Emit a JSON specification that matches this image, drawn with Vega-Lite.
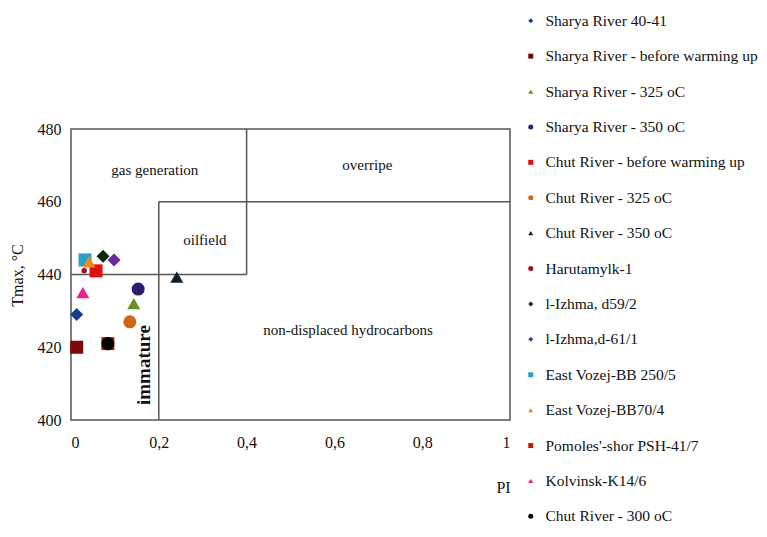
{
  "$schema": "https://vega.github.io/schema/vega-lite/v6.json",
  "width": 439,
  "height": 291,
  "autosize": {"type": "none"},
  "padding": {"left": 71, "top": 129, "right": 257, "bottom": 117},
  "background": "white",
  "config": {
    "view": {"stroke": "#555555", "strokeWidth": 1.5},
    "font": "Liberation Serif",
    "axis": {"labelFont": "Liberation Serif", "titleFont": "Liberation Serif", "labelColor": "#111", "titleColor": "#111", "labelFontSize": 16, "titleFontSize": 16, "titleFontWeight": "normal", "grid": false, "ticks": false, "domain": false}
  },
  "datasets": {
    "lines": [
      {"x": 0, "x2": 0.4, "y": 440, "y2": 440},
      {"x": 0.4, "x2": 0.4, "y": 440, "y2": 480},
      {"x": 0.2, "x2": 0.2, "y": 400, "y2": 460},
      {"x": 0.2, "x2": 1, "y": 460, "y2": 460}
    ],
    "zones": [
      {"label": "gas generation", "x": 0.191, "y": 468.7, "rot": "h"},
      {"label": "overripe", "x": 0.675, "y": 470.1, "rot": "h"},
      {"label": "oilfield", "x": 0.305, "y": 449.5, "rot": "h"},
      {"label": "non-displaced hydrocarbons", "x": 0.631, "y": 424.7, "rot": "h"},
      {"label": "immature", "x": 0.166, "y": 415.1, "rot": "v"}
    ],
    "points": [
      {"series": "Sharya River 40-41", "PI": 0.013, "Tmax": 429},
      {"series": "Sharya River - before warming up", "PI": 0.013, "Tmax": 420},
      {"series": "Sharya River - 325 oC", "PI": 0.143, "Tmax": 432},
      {"series": "Sharya River - 350 oC", "PI": 0.153, "Tmax": 436},
      {"series": "Chut River - before warming up", "PI": 0.057, "Tmax": 441},
      {"series": "Chut River - 325 oC", "PI": 0.134, "Tmax": 427},
      {"series": "Chut River - 350 oC", "PI": 0.241, "Tmax": 439.3},
      {"series": "l-Izhma, d59/2", "PI": 0.073, "Tmax": 445},
      {"series": "l-Izhma,d-61/1", "PI": 0.098, "Tmax": 444},
      {"series": "East Vozej-BB 250/5", "PI": 0.032, "Tmax": 444},
      {"series": "East Vozej-BB70/4", "PI": 0.041, "Tmax": 443.5},
      {"series": "Harutamylk-1", "PI": 0.03, "Tmax": 441},
      {"series": "Pomoles'-shor PSH-41/7", "PI": 0.084, "Tmax": 421},
      {"series": "Kolvinsk-K14/6", "PI": 0.027, "Tmax": 435},
      {"series": "Chut River - 300 oC", "PI": 0.084, "Tmax": 421}
    ]
  },
  "layer": [
    {
      "data": {"name": "lines"},
      "mark": {"type": "rule", "color": "#555555", "strokeWidth": 1.5},
      "encoding": {
        "x": {"field": "x", "type": "quantitative", "scale": {"domain": [0, 1], "nice": false}},
        "x2": {"field": "x2"},
        "y": {"field": "y", "type": "quantitative", "scale": {"domain": [400, 480], "nice": false}},
        "y2": {"field": "y2"}
      }
    },
    {
      "data": {"name": "zones"},
      "transform": [{"filter": "datum.rot == 'h'"}],
      "mark": {"type": "text", "font": "Liberation Serif", "fontSize": 15, "color": "#111", "align": "center", "baseline": "middle"},
      "encoding": {
        "x": {"field": "x", "type": "quantitative"},
        "y": {"field": "y", "type": "quantitative"},
        "text": {"field": "label"}
      }
    },
    {
      "data": {"name": "zones"},
      "transform": [{"filter": "datum.rot == 'v'"}],
      "mark": {"type": "text", "font": "Liberation Serif", "fontSize": 19, "fontWeight": "bold", "color": "#111", "align": "center", "baseline": "middle", "angle": 270},
      "encoding": {
        "x": {"field": "x", "type": "quantitative"},
        "y": {"field": "y", "type": "quantitative"},
        "text": {"field": "label"}
      }
    },
    {
      "data": {"name": "points"},
      "mark": {"type": "point", "filled": true, "opacity": 1},
      "encoding": {
        "x": {"field": "PI", "type": "quantitative", "title": "PI",
          "axis": {"values": [0, 0.2, 0.4, 0.6, 0.8, 1], "labelExpr": "replace(toString(datum.value), '.', ',')", "labelPadding": 14, "titleX": 432, "titleY": 67, "titleAlign": "center", "titleBaseline": "middle"}},
        "y": {"field": "Tmax", "type": "quantitative", "title": "Tmax, °C",
          "axis": {"values": [400, 420, 440, 460, 480], "labelPadding": 10, "titleX": -54, "titleY": 146, "titleAngle": -90, "titleAlign": "center", "titleBaseline": "middle"}},
        "color": {"field": "series", "type": "nominal",
          "scale": {
            "domain": ["Sharya River 40-41", "Sharya River - before warming up", "Sharya River - 325 oC", "Sharya River - 350 oC", "Chut River - before warming up", "Chut River - 325 oC", "Chut River - 350 oC", "Harutamylk-1", "l-Izhma, d59/2", "l-Izhma,d-61/1", "East Vozej-BB 250/5", "East Vozej-BB70/4", "Pomoles'-shor PSH-41/7", "Kolvinsk-K14/6", "Chut River - 300 oC"],
            "range": ["#1c3a8c", "#7a0a0a", "#6b8e23", "#2e1a6e", "#e01010", "#d0651a", "#0d1f2d", "#a0101a", "#0a2a0a", "#6a2a9a", "#2aa0c8", "#f08a20", "#c01a00", "#f0208a", "#000000"]
          },
          "legend": {"title": null, "orient": "none", "legendX": 452, "legendY": -116, "padding": 0, "rowPadding": 18.4, "labelFont": "Liberation Serif", "labelFontSize": 15.5, "labelColor": "#111", "symbolSize": 25, "labelOffset": 7, "labelLimit": 400}
        },
        "shape": {"field": "series", "type": "nominal",
          "scale": {
            "domain": ["Sharya River 40-41", "Sharya River - before warming up", "Sharya River - 325 oC", "Sharya River - 350 oC", "Chut River - before warming up", "Chut River - 325 oC", "Chut River - 350 oC", "Harutamylk-1", "l-Izhma, d59/2", "l-Izhma,d-61/1", "East Vozej-BB 250/5", "East Vozej-BB70/4", "Pomoles'-shor PSH-41/7", "Kolvinsk-K14/6", "Chut River - 300 oC"],
            "range": ["diamond", "square", "triangle-up", "circle", "square", "circle", "triangle-up", "circle", "diamond", "diamond", "square", "triangle-up", "square", "triangle-up", "circle"]
          }
        },
        "size": {"condition": {"test": "datum.series == 'Harutamylk-1'", "value": 30}, "value": 170}
      }
    }
  ]
}
